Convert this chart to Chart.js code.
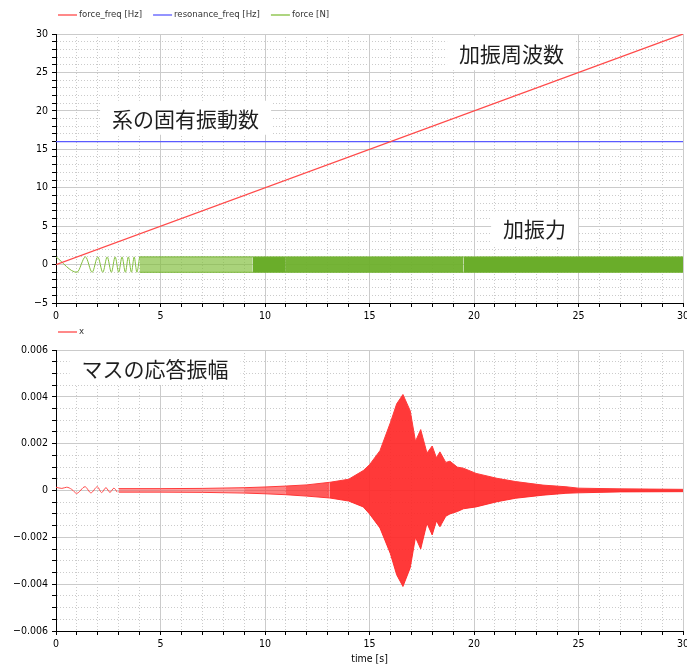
<!DOCTYPE html>
<html>
<head>
<meta charset="utf-8">
<script src="https://cdn.jsdelivr.net/npm/chart.js@4"></script>
<style>
  body { margin: 0; background: #fff; }
  canvas { position: absolute; left: 0; }
  #top { top: 0; }
  #bottom { top: 322px; }
</style>
</head>
<body>
<canvas id="top" width="687" height="322"></canvas>
<canvas id="bottom" width="687" height="344"></canvas>
<script>
// ---- top panel: excitation ----
const freqTimes = [0, 30];
const forceFreq = [0, 30];
const resonanceFreq = [16, 16];

// first swings of the chirp can still be read as peaks / troughs
const forceTimes = [0, 1.0, 1.41, 1.73, 2.0, 2.24, 2.45, 2.65, 2.83, 3.0, 3.16, 3.32, 3.46, 3.61, 3.74, 3.87, 4.0];
const forceValues = [1, -1, 1, -1, 1, -1, 1, -1, 1, -1, 1, -1, 1, -1, 1, -1, 1];
// after ~4 s it is just a solid band between -1 and 1
const forceBandTimes = [4.0, 9.4, 11.0, 19.5, 30];
const forceBandTop = [1, 1, 1, 1, 1];
const forceBandBottom = [-1, -1, -1, -1, -1];

// ---- bottom panel: mass response ----
const respTimes = [0, 0.28, 0.51, 0.75, 0.99, 1.39, 1.67, 1.98, 2.18, 2.39, 2.58, 2.77, 2.93];
const respValues = [0.00014, 0.00009, 0.00014, 0.00005, -0.00012, 0.00016, -0.0001, 0.00016, -0.00009, 0.00012, -0.00008, 0.0001, -0.00007];
// envelope of the dense oscillation
const envTimes = [3.0, 5.0, 7.0, 9.0, 10.0, 11.0, 12.0, 13.1, 14.0, 14.7, 15.0, 15.5, 16.0, 16.3, 16.6, 16.95, 17.2, 17.45, 17.75, 18.0, 18.2, 18.37, 18.65, 18.85, 19.2, 19.5, 20.1, 21.1, 22.0, 23.3, 24.4, 25.0, 27.0, 30.0];
const envTop = [0.00008, 0.00008, 0.00009, 0.00012, 0.00015, 0.00019, 0.00024, 0.00035, 0.00048, 0.00085, 0.0011, 0.0017, 0.0029, 0.0037, 0.0041, 0.0034, 0.0021, 0.0026, 0.0016, 0.0019, 0.0014, 0.00165, 0.0012, 0.00125, 0.001, 0.00095, 0.00073, 0.00052, 0.00038, 0.00023, 0.00016, 0.0001, 0.00007, 0.00005];
const envBottom = [-0.00007, -0.00007, -0.00008, -0.00011, -0.00014, -0.00018, -0.00024, -0.00032, -0.00045, -0.0007, -0.001, -0.0016, -0.0027, -0.0036, -0.0041, -0.0033, -0.002, -0.0025, -0.0014, -0.0019, -0.0013, -0.00155, -0.0011, -0.001, -0.0009, -0.00078, -0.0007, -0.00048, -0.00033, -0.0002, -0.00012, -0.0001, -0.00006, -0.00005];

const tickFont = { family: '"DejaVu Sans Condensed", "DejaVu Sans", sans-serif', size: 10.5 };
const RED = '#ff4a4a', BLUE = '#5a5aff', GREEN = '#82be3c';

const pts = (xs, ys) => xs.map((x, i) => ({ x: x, y: ys[i] }));
const minus = s => s.replace('-', '\u2212');

// legend + japanese notes drawn on the canvas
const panelText = {
    id: 'panelText',
    afterDraw(chart, args, opts) {
        const ctx = chart.ctx;
        ctx.save();
        let x = opts.legendX;
        ctx.font = '9.5px "DejaVu Sans Condensed", "DejaVu Sans", sans-serif';
        ctx.textBaseline = 'middle';
        ctx.textAlign = 'left';
        chart.data.datasets.forEach(ds => {
            if (!ds.label) return;
            ctx.strokeStyle = ds.borderColor;
            ctx.lineWidth = 1.3;
            ctx.beginPath();
            ctx.moveTo(x, opts.legendY);
            ctx.lineTo(x + 19, opts.legendY);
            ctx.stroke();
            ctx.fillStyle = '#333';
            ctx.fillText(ds.label, x + 21, opts.legendY);
            x += 21 + ctx.measureText(ds.label).width + 11;
        });

        const sx = chart.scales.x, sy = chart.scales.y;
        ctx.font = '21px "Noto Sans CJK JP", sans-serif';
        ctx.textAlign = 'center';
        (opts.notes || []).forEach(n => {
            const px = sx.getPixelForValue(n.x);
            const py = sy.getPixelForValue(n.y);
            const w = ctx.measureText(n.text).width;
            ctx.fillStyle = '#fff';
            ctx.fillRect(px - w / 2 - 12, py - 17, w + 24, 34);
            ctx.fillStyle = '#1e1e1e';
            ctx.fillText(n.text, px, py + 1);
        });
        ctx.restore();
    }
};

function xAxis(height, title) {
    return {
        type: 'linear',
        min: 0,
        max: 30,
        ticks: {
            stepSize: 1,
            autoSkip: false,
            maxRotation: 0,
            padding: 3,
            color: '#000',
            font: tickFont,
            callback: v => (v % 5 === 0 ? String(v) : '')
        },
        grid: {
            color: '#cbcbcb',
            tickColor: '#000',
            tickLength: 4
        },
        border: {
            color: '#000',
            width: 1,
            dash: ctx => (ctx.tick && ctx.tick.value % 5 !== 0 ? [1, 2] : [])
        },
        title: {
            display: !!title,
            text: title || '',
            color: '#000',
            font: tickFont,
            padding: 0
        },
        afterFit: s => {
            s.height = height;
            s.paddingLeft = 0;
            s.paddingRight = 0;
        }
    };
}

function yAxis(min, max, step, majorEvery, fmt) {
    const isMajor = v => Math.abs(Math.round(v / step)) % majorEvery === 0;
    return {
        min: min,
        max: max,
        ticks: {
            stepSize: step,
            autoSkip: false,
            padding: 4,
            color: '#000',
            font: tickFont,
            callback: v => (isMajor(v) ? fmt(v) : '')
        },
        grid: {
            color: '#cbcbcb',
            tickColor: '#000',
            tickLength: 4
        },
        border: {
            color: '#000',
            width: 1,
            dash: ctx => (ctx.tick && !isMajor(ctx.tick.value) ? [1, 2] : [])
        },
        afterFit: s => {
            s.width = 56;
            s.paddingTop = 0;
            s.paddingBottom = 0;
        }
    };
}

const baseOptions = {
    responsive: false,
    animation: false,
    devicePixelRatio: 1,
    elements: { point: { radius: 0 }, line: { borderWidth: 1 } },
    events: []
};

// top chart
new Chart(document.getElementById('top'), {
    type: 'line',
    data: {
        datasets: [
            { label: 'force_freq [Hz]', data: pts(freqTimes, forceFreq), borderColor: RED, borderWidth: 1.2 },
            { label: 'resonance_freq [Hz]', data: pts(freqTimes, resonanceFreq), borderColor: BLUE, borderWidth: 1.2 },
            { label: 'force [N]', data: pts(forceTimes, forceValues), borderColor: GREEN, cubicInterpolationMode: 'monotone' },
            {
                data: pts(forceBandTimes, forceBandTop),
                borderColor: '#74b332',
                fill: '+1',
                backgroundColor: '#6aad2a',
                segment: {
                    backgroundColor: c => {
                        const t = c.p0.parsed.x;
                        if (t < 9.4) return 'rgba(130,190,60,0.68)';
                        if (t >= 11 && t < 19.5) return 'rgba(108,175,42,0.94)';
                        return '#6aad2a';
                    }
                }
            },
            { data: pts(forceBandTimes, forceBandBottom), borderColor: '#74b332', fill: false }
        ]
    },
    options: Object.assign({}, baseOptions, {
        layout: { padding: { top: 34, right: 4, left: 0, bottom: 0 } },
        scales: {
            x: xAxis(19),
            y: yAxis(-5, 30, 1, 5, v => minus(String(v)))
        },
        plugins: {
            legend: { display: false },
            tooltip: { enabled: false },
            panelText: {
                legendX: 58,
                legendY: 15,
                notes: [
                    { text: '加振周波数', x: 21.8, y: 27.5 },
                    { text: '系の固有振動数', x: 6.2, y: 19.1 },
                    { text: '加振力', x: 22.9, y: 4.7 }
                ]
            }
        }
    }),
    plugins: [panelText]
});

// bottom chart
new Chart(document.getElementById('bottom'), {
    type: 'line',
    data: {
        datasets: [
            { label: 'x', data: pts(respTimes, respValues), borderColor: RED, cubicInterpolationMode: 'monotone' },
            {
                data: pts(envTimes, envTop),
                borderColor: '#ff3a3a',
                fill: '+1',
                backgroundColor: 'rgba(255,40,40,0.92)',
                segment: {
                    backgroundColor: c => {
                        const t = c.p0.parsed.x;
                        if (t < 8) return 'rgba(255,70,70,0.5)';
                        if (t < 11) return 'rgba(255,60,60,0.64)';
                        if (t < 13) return 'rgba(255,50,50,0.8)';
                        return 'rgba(255,40,40,0.92)';
                    }
                }
            },
            { data: pts(envTimes, envBottom), borderColor: '#ff3a3a', fill: false }
        ]
    },
    options: Object.assign({}, baseOptions, {
        layout: { padding: { top: 28, right: 4, left: 0, bottom: 0 } },
        scales: {
            x: xAxis(35, 'time [s]'),
            y: yAxis(-0.006, 0.006, 0.0005, 4, v => (v === 0 ? '0' : minus(v.toFixed(3))))
        },
        plugins: {
            legend: { display: false },
            tooltip: { enabled: false },
            panelText: {
                legendX: 58,
                legendY: 10,
                notes: [
                    { text: 'マスの応答振幅', x: 4.74, y: 0.00523 }
                ]
            }
        }
    }),
    plugins: [panelText]
});
</script>
</body>
</html>
